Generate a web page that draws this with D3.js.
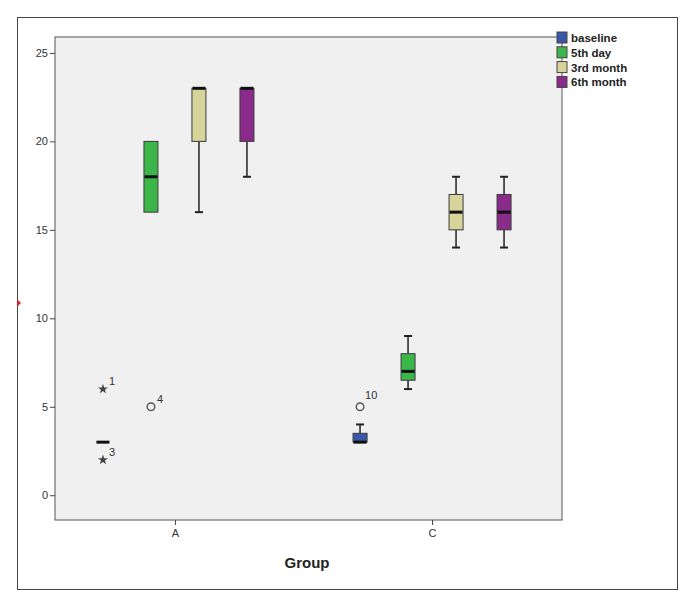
<!DOCTYPE html>
<html>
<head>
<meta charset="utf-8">
<script src="https://cdn.jsdelivr.net/npm/d3@7"></script>
<style>
  body { margin: 0; background: #fff; }
  text { font-family: "Liberation Sans", Arial, sans-serif; }
</style>
</head>
<body>
<div id="chart"></div>
<script>
const groups = ["A", "C"];
const series = ["baseline", "5th day", "3rd month", "6th month"];
const colors = ["#3b56a8", "#3cb54b", "#d6d39b", "#8a2a8b"];

// one entry per box, group x series
const boxGroup = ["A", "A", "A", "A", "C", "C", "C", "C"];
const boxSeries = ["baseline", "5th day", "3rd month", "6th month", "baseline", "5th day", "3rd month", "6th month"];
const whiskerLo = [3, 16, 16, 18, 3, 6, 14, 14];
const q1 = [3, 16, 20, 20, 3, 6.5, 15, 15];
const median = [3, 18, 23, 23, 3, 7, 16, 16];
const q3 = [3, 20, 23, 23, 3.5, 8, 17, 17];
const whiskerHi = [3, 20, 23, 23, 4, 9, 18, 18];

const outGroup = ["A", "A", "A", "C"];
const outSeries = ["baseline", "baseline", "5th day", "baseline"];
const outValue = [6, 2, 5, 5];
const outCase = ["1", "3", "4", "10"];
const outExtreme = [true, true, false, false];

const yTicks = [0, 5, 10, 15, 20, 25];

const width = 684, height = 604;
const plot = { left: 55, right: 562, top: 37, bottom: 520 };

const svg = d3.select("#chart").append("svg")
    .attr("width", width)
    .attr("height", height);

// outer frame
svg.append("rect")
    .attr("x", 17.5).attr("y", 17.5)
    .attr("width", 660).attr("height", 572)
    .attr("fill", "#fff")
    .attr("stroke", "#444");

// little red marker on the left frame
svg.append("path")
    .attr("d", "M17,299 L21,303 L17,307 Z")
    .attr("fill", "#d9232a");

svg.append("rect")
    .attr("x", plot.left).attr("y", plot.top)
    .attr("width", plot.right - plot.left).attr("height", plot.bottom - plot.top)
    .attr("fill", "#f0f0f0")
    .attr("stroke", "#555");

const x = d3.scalePoint()
    .domain(groups)
    .range([plot.left, plot.right])
    .padding(0.486)
    .align(0.48);

const inner = d3.scaleBand()
    .domain(series)
    .range([-96, 96]);

const y = d3.scaleLinear()
    .domain([-1.4, 25.9])
    .range([plot.bottom, plot.top]);

const color = d3.scaleOrdinal().domain(series).range(colors);
const cx = (g, s) => x(g) + inner(s) + inner.bandwidth() / 2;

// axes
const yAxis = svg.append("g")
    .attr("transform", `translate(${plot.left},0)`)
    .call(d3.axisLeft(y).tickValues(yTicks).tickSize(5).tickPadding(2));
yAxis.select(".domain").remove();

const xAxis = svg.append("g")
    .attr("transform", `translate(0,${plot.bottom})`)
    .call(d3.axisBottom(x).tickSize(5).tickPadding(4));
xAxis.select(".domain").remove();

svg.selectAll(".tick line").attr("stroke", "#444");
svg.selectAll(".tick text")
    .attr("fill", "#333")
    .style("font-size", "11px")
    .style("font-family", "'Liberation Sans', Arial, sans-serif");

svg.append("text")
    .attr("x", 307)
    .attr("y", 568)
    .attr("text-anchor", "middle")
    .attr("font-size", "15px")
    .attr("font-weight", "bold")
    .attr("fill", "#222")
    .text("Group");

// boxes
const boxW = 14, capW = 8;
const boxes = d3.range(boxGroup.length).map(i => ({
    g: boxGroup[i], s: boxSeries[i],
    lo: whiskerLo[i], q1: q1[i], med: median[i], q3: q3[i], hi: whiskerHi[i]
}));

const b = svg.append("g").selectAll("g")
    .data(boxes)
    .enter()
    .append("g");

// whiskers
b.filter(d => d.lo < d.q1).append("line")
    .attr("x1", d => cx(d.g, d.s)).attr("x2", d => cx(d.g, d.s))
    .attr("y1", d => y(d.q1)).attr("y2", d => y(d.lo))
    .attr("stroke", "#222").attr("stroke-width", 1.5);
b.filter(d => d.lo < d.q1).append("line")
    .attr("x1", d => cx(d.g, d.s) - capW / 2).attr("x2", d => cx(d.g, d.s) + capW / 2)
    .attr("y1", d => y(d.lo)).attr("y2", d => y(d.lo))
    .attr("stroke", "#222").attr("stroke-width", 2);
b.filter(d => d.hi > d.q3).append("line")
    .attr("x1", d => cx(d.g, d.s)).attr("x2", d => cx(d.g, d.s))
    .attr("y1", d => y(d.q3)).attr("y2", d => y(d.hi))
    .attr("stroke", "#222").attr("stroke-width", 1.5);
b.filter(d => d.hi > d.q3).append("line")
    .attr("x1", d => cx(d.g, d.s) - capW / 2).attr("x2", d => cx(d.g, d.s) + capW / 2)
    .attr("y1", d => y(d.hi)).attr("y2", d => y(d.hi))
    .attr("stroke", "#222").attr("stroke-width", 2);

b.filter(d => d.q3 > d.q1).append("rect")
    .attr("x", d => cx(d.g, d.s) - boxW / 2)
    .attr("width", boxW)
    .attr("y", d => y(d.q3))
    .attr("height", d => y(d.q1) - y(d.q3))
    .attr("fill", d => color(d.s))
    .attr("stroke", "#3a3a3a")
    .attr("stroke-width", 1);

b.append("line")
    .attr("x1", d => cx(d.g, d.s) - boxW / 2 + 0.5).attr("x2", d => cx(d.g, d.s) + boxW / 2 - 0.5)
    .attr("y1", d => y(d.med)).attr("y2", d => y(d.med))
    .attr("stroke", "#111").attr("stroke-width", 3);

// outliers
const outs = d3.range(outValue.length).map(i => ({
    g: outGroup[i], s: outSeries[i], v: outValue[i], c: outCase[i], ext: outExtreme[i]
}));

const o = svg.append("g").selectAll("g")
    .data(outs)
    .enter()
    .append("g")
    .attr("transform", d => `translate(${cx(d.g, d.s)},${y(d.v)})`);

o.filter(d => d.ext).append("path")
    .attr("d", d3.symbol(d3.symbolStar, 32))
    .attr("fill", "#444");

o.filter(d => !d.ext).append("circle")
    .attr("r", 3.8)
    .attr("fill", "none")
    .attr("stroke", "#555")
    .attr("stroke-width", 1.4);

o.append("text")
    .attr("x", d => d.c.length > 1 ? 5 : 6)
    .attr("y", d => d.c.length > 1 ? -8 : -4)
    .attr("font-size", "11px")
    .attr("fill", "#333")
    .text(d => d.c);

// legend
const legend = svg.append("g").selectAll("g")
    .data(series)
    .enter()
    .append("g")
    .attr("transform", (d, i) => `translate(557,${32 + i * 14.8})`);

legend.append("rect")
    .attr("width", 10).attr("height", 11)
    .attr("fill", d => color(d))
    .attr("stroke", "#444");

legend.append("text")
    .attr("x", 14).attr("y", 10)
    .attr("font-size", "11.5px")
    .attr("font-weight", "bold")
    .attr("fill", "#222")
    .text(d => d);
</script>
</body>
</html>
